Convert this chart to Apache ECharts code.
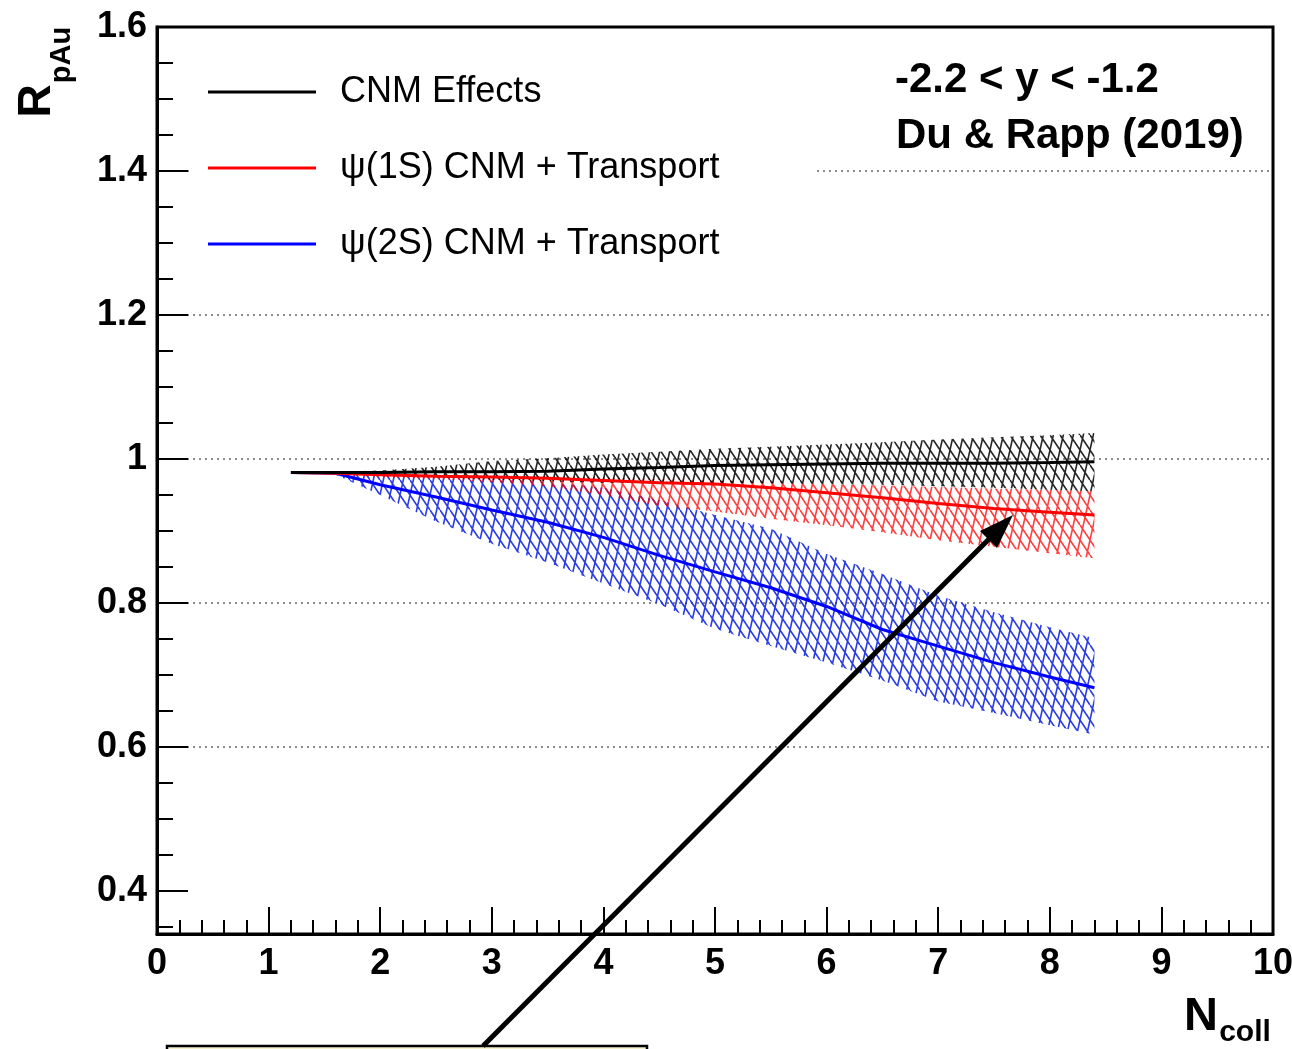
<!DOCTYPE html>
<html>
<head>
<meta charset="utf-8">
<script src="https://cdn.jsdelivr.net/npm/echarts@6/dist/echarts.min.js"></script>
<style>
  html, body { margin: 0; padding: 0; background: #fff; }
  #chart { width: 1292px; height: 1049px; }
</style>
</head>
<body>
<div id="chart"></div>
<script>
// N_coll sampling points shared by the three model curves
var ncoll = [1.2, 1.6, 2.0, 2.5, 3.0, 3.5, 4.0, 4.5, 5.0, 5.5, 6.0, 6.5, 7.0, 7.5, 8.0, 8.4];

// CNM effects only
var cnmCentral = [0.981, 0.981, 0.981, 0.982, 0.982, 0.983, 0.986, 0.988, 0.991, 0.992, 0.993, 0.994, 0.994, 0.994, 0.995, 0.996];
var cnmUpper   = [0.981, 0.982, 0.984, 0.989, 0.997, 1.001, 1.006, 1.010, 1.014, 1.017, 1.020, 1.023, 1.027, 1.030, 1.033, 1.036];
var cnmLower   = [0.981, 0.980, 0.978, 0.975, 0.971, 0.969, 0.967, 0.966, 0.966, 0.966, 0.965, 0.964, 0.962, 0.960, 0.957, 0.955];

// psi(1S) CNM + transport
var psi1sCentral = [0.981, 0.980, 0.978, 0.976, 0.975, 0.973, 0.970, 0.967, 0.965, 0.960, 0.953, 0.946, 0.938, 0.931, 0.926, 0.922];
var psi1sUpper   = [0.981, 0.981, 0.979, 0.978, 0.977, 0.976, 0.974, 0.972, 0.970, 0.968, 0.965, 0.963, 0.961, 0.959, 0.957, 0.955];
var psi1sLower   = [0.981, 0.979, 0.975, 0.972, 0.968, 0.962, 0.950, 0.935, 0.927, 0.917, 0.908, 0.898, 0.887, 0.878, 0.869, 0.862];

// psi(2S) CNM + transport
var psi2sCentral = [0.981, 0.980, 0.964, 0.947, 0.929, 0.912, 0.891, 0.866, 0.843, 0.821, 0.795, 0.763, 0.740, 0.717, 0.697, 0.682];
var psi2sUpper   = [0.981, 0.981, 0.977, 0.975, 0.972, 0.968, 0.960, 0.943, 0.922, 0.903, 0.868, 0.840, 0.810, 0.787, 0.766, 0.751];
var psi2sLower   = [0.981, 0.978, 0.950, 0.913, 0.882, 0.856, 0.827, 0.798, 0.764, 0.740, 0.717, 0.692, 0.663, 0.647, 0.630, 0.617];

var yMajorTicks = [0.4, 0.6, 0.8, 1.0, 1.2, 1.4, 1.6];
var yMinorTicks = [0.35, 0.45, 0.5, 0.55, 0.65, 0.7, 0.75, 0.85, 0.9, 0.95, 1.05, 1.1, 1.15, 1.25, 1.3, 1.35, 1.45, 1.5, 1.55];

var FONT = '"Liberation Sans", Arial, Helvetica, sans-serif';

// ROOT-like hatch fill: steep "/" strokes crossed by "\" strokes
function hatch(color) {
    var c = document.createElement('canvas');
    c.width = 10; c.height = 45;
    var g = c.getContext('2d');
    g.strokeStyle = color;
    g.lineWidth = 1.6;
    g.beginPath();
    for (var dx = -10; dx <= 10; dx += 10) {
        g.moveTo(dx, 45); g.lineTo(dx + 10, 0);
    }
    for (var k = -1; k <= 3; k++) {
        g.moveTo(0, k * 15); g.lineTo(10, k * 15 + 15);
    }
    g.stroke();
    return c;
}

function pairs(ys) {
    return ncoll.map(function (x, i) { return [x, ys[i]]; });
}

// uncertainty band drawn as one polygon through the axis scales
function band(name, lo, hi, color) {
    var pattern = { image: hatch(color), repeat: 'repeat' };
    return {
        name: name, type: 'custom', silent: true, z: 2,
        data: ncoll.map(function (x, i) { return [x, lo[i], hi[i]]; }),
        encode: { x: 0, y: [1, 2] },
        renderItem: function (params, api) {
            if (params.dataIndex !== 0) return null;
            var n = params.dataInsideLength, top = [], bottom = [];
            for (var j = 0; j < n; j++) {
                top.push(api.coord([api.value(0, j), api.value(2, j)]));
                bottom.push(api.coord([api.value(0, j), api.value(1, j)]));
            }
            return {
                type: 'polygon',
                shape: { points: top.concat(bottom.reverse()) },
                style: { fill: pattern, stroke: null }
            };
        }
    };
}

function curve(name, ys, color) {
    return {
        name: name, type: 'line', data: pairs(ys), symbol: 'none',
        color: color, lineStyle: { color: color, width: 3 }, z: 3
    };
}

var series = [
    band('psi2s band', psi2sLower, psi2sUpper, 'rgba(20,40,225,0.9)'),
    band('psi1s band', psi1sLower, psi1sUpper, 'rgba(255,0,0,0.75)'),
    band('cnm band', cnmLower, cnmUpper, 'rgba(0,0,0,0.85)'),
    curve('ψ(2S) CNM + Transport', psi2sCentral, '#0000ff'),
    curve('ψ(1S) CNM + Transport', psi1sCentral, '#ff0000'),
    curve('CNM Effects', cnmCentral, '#000000')
];

var myChart = echarts.init(document.getElementById('chart'));

var option = {
    animation: false,
    backgroundColor: '#fff',
    grid: {
        left: 157, right: 19, top: 27, bottom: 115,
        show: true, borderColor: '#000', borderWidth: 3,
        containLabel: false, outerBoundsMode: 'none'
    },
    legend: {
        orient: 'vertical', left: 208, top: 72, padding: 0,
        itemWidth: 108, itemHeight: 3, itemGap: 36, icon: 'rect',
        data: ['CNM Effects', 'ψ(1S) CNM + Transport', 'ψ(2S) CNM + Transport'],
        textStyle: { fontFamily: FONT, fontSize: 36, color: '#000', lineHeight: 40, padding: [0, 0, 0, 19] }
    },
    xAxis: {
        type: 'value', min: 0, max: 10, interval: 1,
        axisLine: { lineStyle: { color: '#000', width: 3 } },
        axisTick: { inside: true, length: 27, lineStyle: { color: '#000', width: 2 } },
        minorTick: { show: true, splitNumber: 5, length: 14, lineStyle: { color: '#000', width: 2 } },
        splitLine: { show: false },
        axisLabel: { fontFamily: FONT, fontSize: 36, fontWeight: 'bold', color: '#000', margin: 12 }
    },
    yAxis: [{
        type: 'value', min: 0.34, max: 1.6, splitNumber: 6,
        axisLine: { lineStyle: { color: '#000', width: 3 } },
        axisTick: { inside: true, length: 31, customValues: yMajorTicks, lineStyle: { color: '#000', width: 2 } },
        splitLine: {
            show: true, showMinLine: false, showMaxLine: false,
            lineStyle: { color: '#666', width: 1.5, type: [2, 4] }
        },
        axisLabel: { customValues: yMajorTicks, fontFamily: FONT, fontSize: 36, fontWeight: 'bold', color: '#000', margin: 10 }
    }, {
        type: 'value', min: 0.34, max: 1.6, position: 'left', offset: 0,
        axisLine: { show: false },
        axisTick: { inside: true, length: 16, customValues: yMinorTicks, lineStyle: { color: '#000', width: 2 } },
        axisLabel: { show: false },
        splitLine: { show: false }
    }],
    graphic: [
        // white legend pad hiding the grid line behind the legend
        { type: 'rect', z: 1, silent: true, shape: { x: 190, y: 40, width: 624, height: 250 }, style: { fill: '#fff' } },
        { type: 'text', z: 5, left: 895, top: 59, style: { text: '-2.2 < y < -1.2', font: 'bold 42px ' + FONT, fill: '#000' } },
        { type: 'text', z: 5, left: 896, top: 115, style: { text: 'Du & Rapp (2019)', font: 'bold 42px ' + FONT, fill: '#000' } },
        // axis titles
        { type: 'text', z: 5, x: 37, y: 101, rotation: Math.PI / 2,
          style: { text: 'R', font: 'bold 46px ' + FONT, fill: '#000', align: 'center', verticalAlign: 'middle' } },
        { type: 'text', z: 5, x: 62, y: 55, rotation: Math.PI / 2,
          style: { text: 'pAu', font: 'bold 29px ' + FONT, fill: '#000', align: 'center', verticalAlign: 'middle' } },
        { type: 'text', z: 5, x: 1201, y: 1017,
          style: { text: 'N', font: 'bold 47px ' + FONT, fill: '#000', align: 'center', verticalAlign: 'middle' } },
        { type: 'text', z: 5, x: 1245, y: 1033,
          style: { text: 'coll', font: 'bold 30px ' + FONT, fill: '#000', align: 'center', verticalAlign: 'middle' } },
        // annotation box at the bottom and arrow
        { type: 'rect', z: 5, shape: { x: 167, y: 1046, width: 480, height: 20 },
          style: { fill: '#f6f2cc', stroke: '#000', lineWidth: 2.5 } },
        { type: 'line', z: 6, shape: { x1: 483, y1: 1046, x2: 992, y2: 536 },
          style: { stroke: '#000', lineWidth: 5 } },
        { type: 'polygon', z: 6, shape: { points: [[1013, 515], [997, 548], [980, 531]] },
          style: { fill: '#000' } }
    ],
    series: series
};

myChart.setOption(option);
</script>
</body>
</html>
